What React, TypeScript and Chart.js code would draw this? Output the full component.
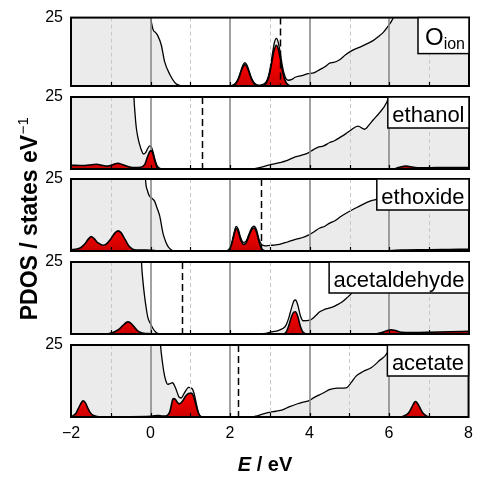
import React, { useEffect, useRef } from 'react';
import { Chart, registerables } from 'chart.js';

Chart.register(...registerables);

const FONT = '"Liberation Sans", Arial, Helvetica, sans-serif';
Chart.defaults.font.family = FONT;

// ---------- data (energies in eV, densities in states/eV) ----------
const panelLabels = ['O_ion', 'ethanol', 'ethoxide', 'acetaldehyde', 'acetate'];
const dashedLineE = [3.26, 1.3, 2.78, 0.8, 2.2];
const majorGridE = [0, 2, 4, 6];
const minorGridE = [-1, 1, 3, 5, 7];
const xTicks = [-2, 0, 2, 4, 6, 8];
const yTickTop = 25;

// O_ion
const oionTotE = [-2, -0.05, 0, 0.06, 0.12, 0.18, 0.27, 0.35, 0.48, 0.64, 0.76, 0.9, 2.0, 2.07, 2.12, 2.17, 2.22, 2.27, 2.32, 2.37, 2.42, 2.47, 2.52, 2.57, 2.62, 2.67, 2.74, 2.8, 2.86, 2.91, 2.96, 3.01, 3.06, 3.11, 3.16, 3.21, 3.26, 3.31, 3.36, 3.41, 3.46, 3.55, 3.62, 3.8, 3.95, 4.1, 4.25, 4.4, 4.5, 4.6, 4.75, 4.9, 5.08, 5.3, 5.59, 5.72, 5.84, 5.95, 6.09, 6.2, 8];
const oionTotD = [40, 40, 26, 20.7, 19.6, 18.4, 14.9, 9.0, 4.3, 0.8, 0.1, 0, 0, 0.3, 0.8, 1.8, 3.4, 5.6, 7.7, 8.5, 7.7, 5.7, 3.5, 1.9, 0.9, 0.4, 0.3, 0.5, 0.9, 1.7, 3.6, 7.0, 11.6, 15.8, 17.4, 15.8, 11.8, 7.4, 4.2, 2.5, 2.1, 2.4, 3.1, 3.8, 4.5, 4.8, 6.0, 7.2, 8.4, 8.6, 9.6, 11.4, 13.1, 14.5, 16.6, 18.0, 19.5, 21.5, 24.8, 30, 40];
const oionRedE = [-2, 2.0, 2.07, 2.12, 2.17, 2.22, 2.27, 2.32, 2.37, 2.42, 2.47, 2.52, 2.57, 2.62, 2.67, 2.74, 2.8, 2.86, 2.91, 2.96, 3.01, 3.06, 3.11, 3.16, 3.21, 3.26, 3.31, 3.36, 3.41, 3.46, 3.52, 8];
const oionRedD = [0, 0, 0.2, 0.6, 1.5, 3.0, 5.1, 7.0, 7.8, 7.0, 5.1, 3.0, 1.5, 0.6, 0.2, 0, 0.1, 0.4, 1.1, 2.8, 5.8, 9.8, 13.4, 14.9, 13.4, 9.8, 5.8, 2.8, 1.1, 0.4, 0, 0];

// ethanol
const ethanolTotE = [-2, -0.45, -0.42, -0.39, -0.36, -0.32, -0.28, -0.23, -0.18, -0.13, -0.07, -0.02, 0.02, 0.07, 0.12, 0.17, 0.23, 0.3, 2.5, 2.65, 2.74, 2.99, 3.24, 3.4, 3.58, 3.8, 3.95, 4.1, 4.2, 4.35, 4.5, 4.62, 4.75, 4.9, 5.04, 5.21, 5.38, 5.5, 5.59, 5.75, 5.92, 6.0, 6.1, 8];
const ethanolTotD = [40, 40, 25.5, 19, 14.4, 11, 8.7, 6.5, 5.2, 5.6, 7.2, 8.0, 7.6, 5.5, 2.8, 1.0, 0.2, 0, 0, 0.2, 0.5, 1.4, 2.2, 2.8, 3.9, 4.8, 5.5, 6.8, 7.5, 8.0, 9.2, 9.8, 10.9, 12.2, 13.6, 14.9, 13.8, 15.5, 17.0, 19.5, 22.8, 26, 35, 40];
const ethanolRedE = [-2, -1.7, -1.55, -1.36, -1.2, -1.1, -0.95, -0.82, -0.7, -0.55, -0.4, -0.25, -0.15, -0.07, 0.0, 0.04, 0.1, 0.16, 0.22, 0.3, 6.1, 6.25, 6.42, 6.6, 6.8, 7.2, 7.6, 8];
const ethanolRedD = [1.3, 1.2, 1.4, 1.65, 1.2, 1.0, 1.5, 2.0, 1.5, 0.8, 0.5, 0.6, 1.5, 4.5, 6.3, 6.0, 3.0, 0.7, 0.1, 0, 0, 0.6, 1.0, 0.6, 0.4, 0.5, 0.5, 0.5];

// ethoxide
const ethoxideTotE = [-2, -0.16, -0.13, -0.08, -0.03, 0.03, 0.1, 0.16, 0.23, 0.31, 0.38, 0.44, 0.5, 0.56, 0.65, 1.9, 1.95, 2.0, 2.05, 2.1, 2.15, 2.2, 2.26, 2.33, 2.4, 2.47, 2.54, 2.6, 2.66, 2.72, 2.78, 2.85, 2.91, 3.05, 3.24, 3.45, 3.66, 3.8, 3.95, 4.1, 4.25, 4.38, 4.5, 4.62, 4.75, 4.9, 5.08, 5.25, 5.42, 5.55, 5.67, 5.8, 5.95, 6.05, 8];
const ethoxideTotD = [40, 40, 25.5, 21, 19.1, 18.3, 17.3, 15, 12.1, 6.2, 3.2, 1.5, 0.6, 0.1, 0, 0, 0.3, 1.3, 3.5, 6.5, 8.5, 7.6, 4.8, 3.0, 3.4, 5.8, 8.0, 8.6, 7.4, 4.3, 2.4, 1.9, 1.8, 2.0, 2.3, 3.2, 4.1, 4.6, 5.4, 6.6, 8.0, 8.6, 9.7, 10.4, 11.7, 13.0, 14.4, 15.6, 16.8, 17.5, 18.0, 20, 24, 30, 40];
const ethoxideRedE = [-2, -1.85, -1.75, -1.65, -1.56, -1.49, -1.42, -1.32, -1.2, -1.1, -1.0, -0.9, -0.82, -0.74, -0.65, -0.55, -0.45, -0.35, -0.1, 0.1, 0.2, 1.9, 1.95, 2.0, 2.05, 2.1, 2.15, 2.2, 2.26, 2.33, 2.4, 2.47, 2.54, 2.6, 2.66, 2.72, 2.78, 2.85, 2.92, 5.9, 6.0, 6.3, 7.0, 7.5, 8];
const ethoxideRedD = [0.4, 0.7, 1.2, 2.5, 4.2, 5.0, 4.3, 2.8, 2.0, 2.6, 4.2, 6.2, 7.0, 6.3, 4.2, 1.8, 0.6, 0.3, 0.3, 0.2, 0, 0, 0.2, 1.0, 3.0, 5.8, 7.8, 6.8, 4.0, 2.3, 2.8, 5.2, 7.4, 8.0, 6.6, 3.4, 1.0, 0.2, 0, 0, 0.1, 0.3, 0.4, 0.5, 0.6];

// acetaldehyde
const acetaldTotE = [-2, -0.26, -0.23, -0.19, -0.15, -0.11, -0.07, 0.0, 0.06, 0.12, 0.18, 0.25, 2.6, 2.82, 3.07, 3.2, 3.32, 3.4, 3.47, 3.54, 3.6, 3.64, 3.7, 3.76, 3.83, 4.0, 4.12, 4.25, 4.35, 4.46, 4.58, 4.67, 4.8, 4.92, 5.08, 5.2, 5.3, 5.4, 5.5, 8];
const acetaldTotD = [40, 40, 25.5, 18, 13, 9, 5.8, 3.5, 1.9, 0.8, 0.2, 0, 0, 0.1, 0.8, 1.2, 1.9, 3.0, 5.5, 9.0, 11.5, 11.8, 10.0, 6.5, 4.6, 4.8, 6.0, 7.7, 8.4, 8.9, 9.4, 10.0, 11.0, 12.4, 14.7, 18, 22, 27, 40, 40];
const acetaldRedE = [-2, -1.1, -1.0, -0.9, -0.8, -0.7, -0.62, -0.57, -0.5, -0.42, -0.34, -0.25, -0.15, 0, 0.1, 3.3, 3.4, 3.47, 3.54, 3.6, 3.64, 3.7, 3.76, 3.82, 3.9, 4.0, 5.6, 5.8, 5.95, 6.05, 6.15, 6.3, 6.6, 7.0, 7.5, 8];
const acetaldRedD = [0, 0, 0.3, 0.8, 1.6, 2.9, 3.9, 4.2, 3.8, 2.6, 1.3, 0.5, 0.2, 0.1, 0, 0, 0.5, 2.8, 6.0, 7.6, 7.7, 6.0, 2.8, 0.8, 0.1, 0, 0, 0.5, 1.2, 1.5, 1.2, 0.6, 0.5, 0.6, 0.8, 0.9];

// acetate
const acetateTotE = [-2, 0.2, 0.25, 0.3, 0.35, 0.39, 0.43, 0.49, 0.55, 0.63, 0.71, 0.77, 0.85, 0.96, 1.05, 1.1, 1.15, 1.2, 1.25, 1.3, 2.5, 2.65, 2.8, 2.99, 3.15, 3.32, 3.5, 3.7, 3.85, 3.99, 4.12, 4.25, 4.38, 4.5, 4.7, 4.92, 5.05, 5.17, 5.35, 5.55, 5.75, 5.96, 6.05, 6.15, 8];
const acetateTotD = [40, 40, 25.5, 19, 14.5, 12.4, 11.3, 11.6, 11.9, 10.1, 7.1, 6.6, 8.3, 10.3, 9.8, 8.0, 4.8, 1.8, 0.3, 0, 0, 0.3, 0.9, 1.6, 2.0, 2.5, 3.6, 4.6, 5.2, 5.7, 6.8, 7.7, 8.6, 9.5, 10.0, 10.1, 12.0, 14.2, 15.8, 17.1, 19.5, 22.4, 26, 35, 40];
const acetateRedE = [-2, -1.95, -1.88, -1.82, -1.76, -1.7, -1.64, -1.58, -1.52, -1.45, -1.35, -1.2, -0.5, 0, 0.1, 0.2, 0.3, 0.38, 0.44, 0.49, 0.53, 0.57, 0.62, 0.68, 0.73, 0.8, 0.88, 0.96, 1.02, 1.08, 1.14, 1.2, 1.26, 1.32, 6.3, 6.4, 6.5, 6.57, 6.62, 6.66, 6.7, 6.77, 6.85, 6.95, 7.05, 8];
const acetateRedD = [0.2, 0.4, 1.2, 2.8, 4.5, 5.6, 5.0, 3.2, 1.6, 0.6, 0.2, 0.1, 0.1, 0.2, 0.4, 0.5, 0.3, 0.3, 0.8, 2.0, 4.5, 6.4, 6.2, 5.0, 4.6, 5.4, 7.2, 8.2, 8.3, 7.3, 4.3, 1.5, 0.2, 0, 0, 0.5, 1.6, 3.3, 4.7, 5.4, 5.0, 3.4, 1.4, 0.3, 0, 0];

const totalE = [oionTotE, ethanolTotE, ethoxideTotE, acetaldTotE, acetateTotE];
const totalD = [oionTotD, ethanolTotD, ethoxideTotD, acetaldTotD, acetateTotD];
const redE = [oionRedE, ethanolRedE, ethoxideRedE, acetaldRedE, acetateRedE];
const redD = [oionRedD, ethanolRedD, ethoxideRedD, acetaldRedD, acetateRedD];

// ---------- layout ----------
const W = 480;
const H = 477;
const PANEL_TOPS = [14, 97, 179, 262, 345];
const PANEL_H = 72;
const AREA_LEFT = 71;
const AREA_RIGHT = 469;

const toPoints = (xs: number[], ys: number[]) => xs.map((x, i) => ({ x, y: ys[i] }));

const decorPlugin = {
  id: 'decor',
  afterDatasetDraw(chart: any, args: any) {
    if (args.index !== 1) return;
    const { ctx, chartArea: a, scales } = chart;
    const x = scales.x;
    ctx.save();
    ctx.beginPath();
    ctx.rect(a.left, a.top, a.right - a.left, a.bottom - a.top);
    ctx.clip();
    ctx.setLineDash([4, 3]);
    ctx.strokeStyle = '#c8c8c8';
    ctx.lineWidth = 1;
    for (const v of minorGridE) {
      const px = Math.round(x.getPixelForValue(v)) + 0.5;
      ctx.beginPath();
      ctx.moveTo(px, a.top);
      ctx.lineTo(px, a.bottom);
      ctx.stroke();
    }
    ctx.setLineDash([]);
    ctx.strokeStyle = '#8a8a8a';
    ctx.lineWidth = 1.6;
    for (const v of majorGridE) {
      const px = Math.round(x.getPixelForValue(v));
      ctx.beginPath();
      ctx.moveTo(px, a.top);
      ctx.lineTo(px, a.bottom);
      ctx.stroke();
    }
    ctx.restore();
  },
  afterDatasetsDraw(chart: any, _args: any, opts: any) {
    const { ctx, chartArea: a, scales } = chart;
    const i = opts.index;
    const px = Math.round(scales.x.getPixelForValue(dashedLineE[i])) + 0.5;
    ctx.save();
    ctx.strokeStyle = '#000';
    ctx.lineWidth = 1.5;
    ctx.setLineDash([7, 4]);
    ctx.beginPath();
    ctx.moveTo(px, a.top);
    ctx.lineTo(px, a.bottom);
    ctx.stroke();
    ctx.setLineDash([]);
    // small inward ticks along the bottom edge
    ctx.lineWidth = 1.2;
    for (const v of [...minorGridE, ...majorGridE]) {
      const tx = Math.round(scales.x.getPixelForValue(v)) + 0.5;
      ctx.beginPath();
      ctx.moveTo(tx, a.bottom);
      ctx.lineTo(tx, a.bottom - 4);
      ctx.stroke();
    }
    ctx.lineWidth = 2;
    ctx.strokeStyle = '#000';
    ctx.strokeRect(a.left, a.top, a.right - a.left, a.bottom - a.top);
    const label = panelLabels[i];
    ctx.textBaseline = 'alphabetic';
    if (label.includes('_')) {
      const [main, sub] = label.split('_');
      const bw = 51, bh = 36;
      ctx.fillStyle = '#fff';
      ctx.fillRect(a.right - bw, a.top, bw, bh);
      ctx.lineWidth = 1.5;
      ctx.strokeRect(a.right - bw, a.top, bw, bh);
      ctx.fillStyle = '#000';
      ctx.font = `16px ${FONT}`;
      const sw = ctx.measureText(sub).width;
      ctx.font = `24px ${FONT}`;
      const mw = ctx.measureText(main).width;
      const sx = a.right - 4 - sw;
      ctx.fillText(main, sx - mw, a.top + 27.5);
      ctx.font = `16px ${FONT}`;
      ctx.fillText(sub, sx, a.top + 31);
    } else {
      ctx.font = `22px ${FONT}`;
      const tw = ctx.measureText(label).width;
      const bw = tw + 9, bh = 31;
      ctx.fillStyle = '#fff';
      ctx.fillRect(a.right - bw, a.top, bw, bh);
      ctx.lineWidth = 1.5;
      ctx.strokeRect(a.right - bw, a.top, bw, bh);
      ctx.fillStyle = '#000';
      ctx.fillText(label, a.right - bw + 4.5, a.top + 24.5);
    }
    ctx.restore();
  },
  afterDraw(chart: any, _args: any, opts: any) {
    if (opts.index !== panelLabels.length - 1) return;
    const { ctx } = chart;
    ctx.save();
    ctx.fillStyle = '#000';
    ctx.textBaseline = 'alphabetic';
    ctx.font = `italic bold 20px ${FONT}`;
    const eW = ctx.measureText('E').width;
    ctx.font = `bold 20px ${FONT}`;
    const restW = ctx.measureText(' / eV').width;
    const x0 = 265 - (eW + restW) / 2;
    ctx.font = `italic bold 20px ${FONT}`;
    ctx.fillText('E', x0, 471);
    ctx.font = `bold 20px ${FONT}`;
    ctx.fillText(' / eV', x0 + eW, 471);
    ctx.translate(36.5, 219);
    ctx.rotate(-Math.PI / 2);
    ctx.font = `bold 23px ${FONT}`;
    const main = 'PDOS / states eV';
    const mW = ctx.measureText(main).width;
    ctx.font = `15px ${FONT}`;
    const sup = '\u22121';
    const sW = ctx.measureText(sup).width;
    const start = -(mW + sW) / 2;
    ctx.font = `bold 23px ${FONT}`;
    ctx.fillText(main, start, 0);
    ctx.font = `15px ${FONT}`;
    ctx.fillText(sup, start + mW + 0.5, -9);
    ctx.restore();
  },
};

function makeConfig(i: number): any {
  const isLast = i === panelLabels.length - 1;
  const top = PANEL_TOPS[i];
  const bottom = top + PANEL_H;
  return {
    type: 'line',
    data: {
      datasets: [
        {
          data: toPoints(redE[i], redD[i]),
          borderColor: '#000',
          borderWidth: 1.6,
          backgroundColor: (c: any) => {
            const a = c.chart.chartArea;
            if (!a) return '#ff0000';
            const g = c.chart.ctx.createLinearGradient(0, a.bottom - 26, 0, a.bottom);
            g.addColorStop(0, '#ff0000');
            g.addColorStop(1, '#cc0000');
            return g;
          },
          fill: 'origin',
          pointRadius: 0,
          cubicInterpolationMode: 'monotone',
        },
        {
          data: toPoints(totalE[i], totalD[i]),
          borderColor: '#000',
          borderWidth: 1.3,
          backgroundColor: '#ebebeb',
          fill: 'origin',
          pointRadius: 0,
          cubicInterpolationMode: 'monotone',
        },
      ],
    },
    options: {
      animation: false,
      responsive: false,
      maintainAspectRatio: false,
      events: [],
      layout: {
        padding: {
          top,
          bottom: isLast ? 0 : H - bottom,
          left: 0,
          right: W - AREA_RIGHT,
        },
      },
      plugins: {
        legend: { display: false },
        tooltip: { enabled: false },
        decor: { index: i },
      },
      scales: {
        x: {
          type: 'linear',
          min: -2,
          max: 8,
          display: isLast,
          grid: { display: false, drawTicks: false },
          border: { display: false },
          afterBuildTicks: (s: any) => {
            s.ticks = xTicks.map((v) => ({ value: v }));
          },
          ticks: {
            color: '#000',
            padding: 7,
            maxRotation: 0,
            autoSkip: false,
            font: { family: FONT, size: 16 },
            callback: (v: any) => (Number(v) < 0 ? '\u2212' + Math.abs(Number(v)) : String(v)),
          },
          afterFit: (s: any) => {
            if (isLast) s.height = H - bottom;
          },
        },
        y: {
          type: 'linear',
          min: 0,
          max: 25,
          grid: { display: false, drawTicks: false },
          border: { display: false },
          afterBuildTicks: (s: any) => {
            s.ticks = [{ value: yTickTop }];
          },
          ticks: {
            color: '#000',
            padding: 8,
            font: { family: FONT, size: 16 },
          },
          afterFit: (s: any) => {
            s.width = AREA_LEFT;
          },
        },
      },
    },
    plugins: [decorPlugin],
  };
}

export default function App() {
  const refs = useRef<(HTMLCanvasElement | null)[]>([]);
  useEffect(() => {
    const charts = panelLabels.map((_, i) => new Chart(refs.current[i] as HTMLCanvasElement, makeConfig(i)));
    return () => charts.forEach((c) => c.destroy());
  }, []);
  return (
    <div style={{ position: 'absolute', left: 0, top: 0, width: W, height: H, background: '#fff' }}>
      {panelLabels.map((_, i) => (
        <canvas
          key={i}
          ref={(el) => {
            refs.current[i] = el;
          }}
          width={W}
          height={H}
          style={{ position: 'absolute', left: 0, top: 0, width: W, height: H }}
        />
      ))}
    </div>
  );
}
